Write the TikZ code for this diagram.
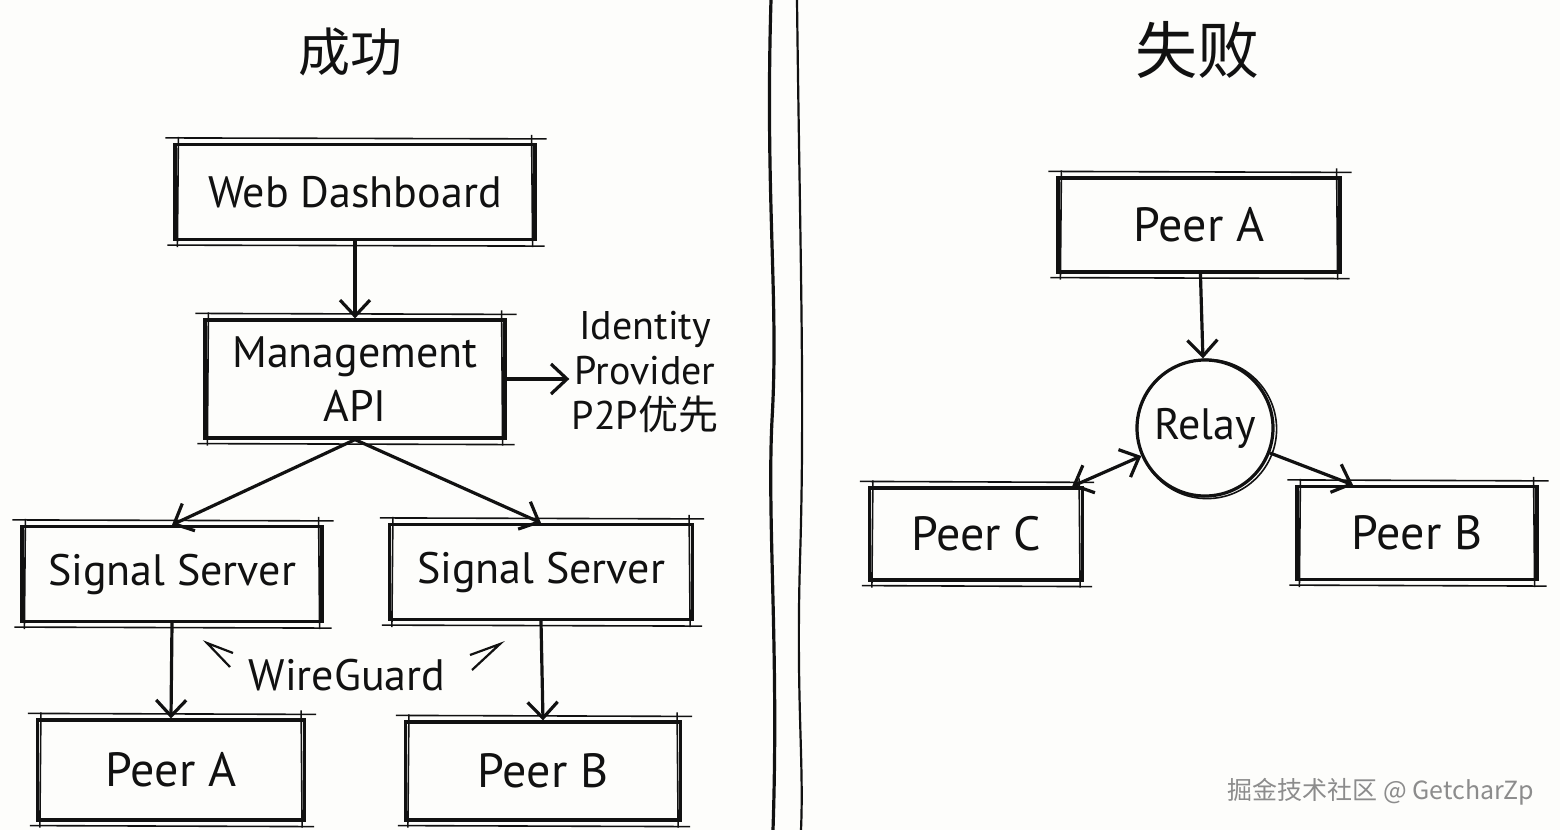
\documentclass[tikz,border=0pt]{standalone}
\usepackage{fontspec}
\setmainfont{PT Sans}
\newfontfamily\cjk{Noto Sans CJK SC}
\usetikzlibrary{calc, positioning, arrows.meta}
\definecolor{inkBlack}{HTML}{111111}
\definecolor{markGray}{HTML}{8C8C8C}
\definecolor{paperWhite}{HTML}{FDFDFB}

\newcommand{\boxfont}{\fontsize{22}{27}\selectfont}
\newcommand{\notefont}{\fontsize{20}{22.5}\selectfont}

\tikzset{
  sketchline/.style={draw=inkBlack, line width=0.8pt, -},
  sketchbox/.style={draw=inkBlack, line width=1.6pt, inner sep=0pt, align=center,
    font=\boxfont, text=inkBlack,
    append after command={
      ([xshift=-4pt,yshift=2.5pt]\tikzlastnode.north west) edge[sketchline] ([xshift=5pt,yshift=2pt]\tikzlastnode.north east)
      ([xshift=-3pt,yshift=-2pt]\tikzlastnode.south west) edge[sketchline] ([xshift=4pt,yshift=-2.5pt]\tikzlastnode.south east)
      ([xshift=2.5pt,yshift=3pt]\tikzlastnode.north west) edge[sketchline] ([xshift=2pt,yshift=-3pt]\tikzlastnode.south west)
      ([xshift=-2.5pt,yshift=4pt]\tikzlastnode.north east) edge[sketchline] ([xshift=-2pt,yshift=-3pt]\tikzlastnode.south east)
    }},
  arr/.style={draw=inkBlack, line width=1.6pt, -{Straight Barb[length=8pt,width=15pt]}},
  arrboth/.style={draw=inkBlack, line width=1.6pt, {Straight Barb[length=8pt,width=15pt]}-{Straight Barb[length=8pt,width=15pt]}},
}

\begin{document}
\begin{tikzpicture}[x=0.5pt, y=-0.5pt]
  \fill[paperWhite] (0,0) rectangle (1560,830);
  \useasboundingbox (0,0) rectangle (1560,830);

  % titles
  \node[font=\cjk\fontsize{26}{28}\selectfont, text=inkBlack] (okTitle) at (350,52) {成功};
  \node[font=\cjk\fontsize{31}{33}\selectfont, text=inkBlack] (failTitle) at (1197,50) {失败};

  % divider
  \draw[inkBlack, line width=1.6pt] (771,0) .. controls (765,200) and (779,300) .. (772,420)
    .. controls (767,520) and (779,650) .. (773,830);
  \draw[inkBlack, line width=1.1pt] (797,0) .. controls (800,250) and (805,400) .. (800,560)
    .. controls (796,700) and (804,760) .. (801,830);

  % left: success path
  \node[sketchbox, minimum width=180pt, minimum height=47.5pt] (web) at (355,192) {Web Dashboard};
  \node[sketchbox, minimum width=150pt, minimum height=59pt] (mgmt) at (355,379) {Management\\API};
  \node[font=\notefont, align=center, inner sep=1pt, text=inkBlack] (idp) at (645,372)
    {Identity\\Provider\\P2P{\cjk 优先}};
  \node[sketchbox, minimum width=150pt, minimum height=47.5pt] (sigL) at (172,574) {Signal Server};
  \node[sketchbox, minimum width=151.5pt, minimum height=47.5pt] (sigR) at (541,572) {Signal Server};
  \node[sketchbox, minimum width=133.5pt, minimum height=50pt, font=\fontsize{24}{28}\selectfont] (peerAL) at (171,770) {Peer A};
  \node[sketchbox, minimum width=137.5pt, minimum height=49pt, font=\fontsize{24}{28}\selectfont] (peerBL) at (543,771) {Peer B};
  \node[font=\boxfont, text=inkBlack] (wg) at (347,675) {WireGuard};

  \draw[arr] (web) -- (mgmt);
  \draw[arr] (mgmt.east) -- (idp.west |- mgmt.east);
  \draw[arr] (mgmt.south) -- (sigL.north);
  \draw[arr] (mgmt.south) -- (sigR.north);
  \draw[arr] (sigL.south) -- (peerAL.north);
  \draw[arr] (sigR.south) -- (peerBL.north);
  \draw[inkBlack, line width=1.1pt] (233,653) -- (207,643) -- (230,667);
  \draw[inkBlack, line width=1.1pt] (470,655) -- (500,644) -- (472,670);

  % right: failure path
  \node[sketchbox, minimum width=141pt, minimum height=47pt, font=\fontsize{24}{28}\selectfont] (peerAR) at (1199,225) {Peer A};
  \node[circle, draw=inkBlack, line width=1.6pt, minimum size=68pt, inner sep=0pt,
    font=\boxfont, text=inkBlack] (relay) at (1205,428) {Relay};
  \draw[sketchline] ([shift={(1pt,-0.5pt)}]relay.center) circle (34.8pt);
  \node[sketchbox, minimum width=106.5pt, minimum height=46pt, font=\fontsize{24}{28}\selectfont] (peerC) at (976,534) {Peer C};
  \node[sketchbox, minimum width=120pt, minimum height=46.5pt, font=\fontsize{24}{28}\selectfont] (peerBR) at (1417,533) {Peer B};

  \draw[arr] (peerAR) -- (relay);
  \draw[arrboth] (relay) -- ([xshift=-6pt]peerC.north east);
  \draw[arr] (relay) -- ([xshift=-32pt]peerBR.north);

  % watermark
  \node[font=\cjk\fontsize{12.5}{14}\selectfont, text=markGray] (mark) at (1381,792) {掘金技术社区 @ GetcharZp};
\end{tikzpicture}
\end{document}
